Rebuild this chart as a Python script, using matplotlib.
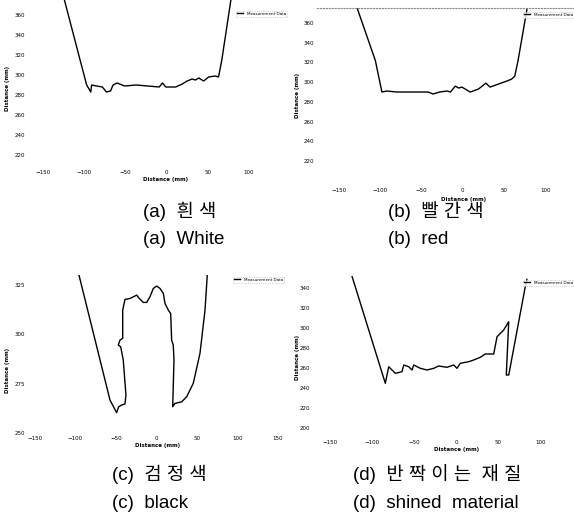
import matplotlib
matplotlib.use('Agg')
from matplotlib import pyplot as plt

W, H = 574, 522

# (a) white
a_x = [-131, -124, -105, -97, -92, -91, -85, -78, -73, -68, -65, -60, -51, -37, -23, -9, -5, -1, 11, 19, 25, 31, 35, 39, 45, 51, 59, 63, 67, 78, 82]
a_y = [390, 375, 315, 290, 283, 290, 289, 288, 283, 284, 290, 292, 289, 290, 289, 288, 292, 288, 288, 291, 294, 296, 295, 297, 294, 298, 299, 298, 315, 375, 390]
# (b) red
b_x = [-131, -128, -106, -98, -92, -80, -72, -64, -52, -42, -36, -28, -19, -15, -9, -5, -1, 9, 19, 28, 33, 43, 53, 59, 63, 67, 78, 81]
b_y = [380, 375, 322, 290, 291, 290, 290, 290, 290, 290, 288, 290, 291, 290, 296, 294, 295, 290, 293, 299, 295, 298, 301, 303, 306, 322, 375, 380]
# (c) black
c_x = [-97, -95.7, -57.4, -49.2, -46.7, -43, -38.9, -37.7, -41, -44.2, -47.2, -45, -41.7, -41.7, -38.9, -32.7, -24.4, -21.2, -16.3, -12.1, -8, -3.9, 0.2, 4.3, 8.4, 10.5, 14.6, 17.5, 18.7, 20.7, 21.6, 20, 22.8, 31.1, 37.3, 45.4, 53.7, 59.9, 62.7, 64]
c_y = [333, 330.1, 266.7, 260.3, 263.3, 264.2, 264.7, 269.2, 287, 293.7, 294.6, 297.1, 298, 312.3, 317.7, 318.2, 319.9, 318.2, 316.2, 316.2, 319.1, 323.3, 324.5, 323.3, 320.8, 315.7, 312.3, 310.6, 297.1, 294.6, 287, 263.3, 265, 265.8, 268.4, 275.2, 290.4, 312.3, 330.1, 333]
# (d) shined material
d_x = [-126, -84.5, -80.5, -72.6, -64.6, -62.6, -56.7, -52.7, -50.7, -42.9, -34.9, -26.9, -21, -11.1, -3.1, 0.8, 4.8, 14.8, 20.7, 28.6, 34.5, 44.5, 48.5, 56.4, 62.4, 59.5, 62.4, 82.1, 84]
d_y = [357, 245, 261.6, 255, 256.6, 263.3, 261.6, 258.3, 263.3, 260, 258.3, 260, 262.3, 261, 263.3, 260, 265, 266.6, 268.3, 271, 274.3, 274.3, 291.6, 298.3, 306.6, 253.3, 253.3, 341.6, 349]

x_ticks = [-150, -100, -50, 0, 50, 100, 150]
ab_yticks = [220, 240, 260, 280, 300, 320, 340, 360]
c_yticks = [250, 275, 300, 325]
d_yticks = [200, 220, 240, 260, 280, 300, 320, 340]

legend_label = 'Measurement Data'

fig = plt.figure(figsize=(W / 100, H / 100), dpi=100)


def box(l, t, r, b):
    return [l / W, 1 - b / H, (r - l) / W, (b - t) / H]


def panel(rect, x, y, xlim, ylim, yticks, leg_px, ylab_px, xlab_px, top_dotted=False):
    ax = fig.add_axes(box(*rect))
    ax.plot(x, y, color='black', lw=1.0, label=legend_label)
    # ticks first, set_xticks would widen the limits otherwise
    ax.set_xticks(x_ticks)
    ax.set_yticks(yticks)
    ax.set_xlim(xlim)
    ax.set_ylim(ylim)
    ax.tick_params(length=0, labelsize=4, pad=2)
    for s in ax.spines.values():
        s.set_visible(False)
    if top_dotted:
        ax.spines['top'].set_visible(True)
        ax.spines['top'].set_linestyle(':')
        ax.spines['top'].set_color('#888888')
        ax.spines['top'].set_linewidth(0.8)
    l, t, r, b = rect
    ax.set_ylabel('Distance (mm)', fontsize=4, fontweight='bold')
    ax.yaxis.set_label_coords((ylab_px[0] - l) / (r - l), (b - ylab_px[1]) / (b - t))
    ax.set_xlabel('Distance (mm)', fontsize=4, fontweight='bold')
    ax.xaxis.set_label_coords((xlab_px[0] - l) / (r - l), (b - xlab_px[1]) / (b - t))
    leg = ax.legend(loc='upper left', bbox_to_anchor=(leg_px[0] / W, 1 - leg_px[1] / H),
                    bbox_transform=fig.transFigure, fontsize=3, handlelength=1.5,
                    borderpad=0.2, frameon=True, fancybox=False)
    leg.get_frame().set_linestyle(':')
    leg.get_frame().set_edgecolor('#999999')
    leg.get_frame().set_linewidth(0.5)
    return ax


panel((28, 0, 287, 167), a_x, a_y, (-168.2, 146.1), (208, 375), ab_yticks, (234, 9), (10, 88), (166, 177))
panel((317, 8, 574, 185), b_x, b_y, (-176.7, 134.8), (195.7, 375.2), ab_yticks, (521, 10), (300, 95), (464, 197), top_dotted=True)
panel((28, 275, 287, 433), c_x, c_y, (-158.6, 161.1), (250, 330.1), c_yticks, (231, 275), (10, 370), (158, 443))
panel((313, 276, 574, 437), d_x, d_y, (-170.6, 140.1), (191.3, 352.3), d_yticks, (521, 278), (300, 357), (457, 447))

cap_font = ['Liberation Sans', 'Noto Sans CJK KR']
captions = [
    (143, 211, '(a)  흰 색'), (143, 239, '(a)  White'),
    (388, 211, '(b)  빨 간 색'), (388, 239, '(b)  red'),
    (112, 474, '(c)  검 정 색'), (112, 504, '(c)  black'),
    (353, 474, '(d)  반 짝 이 는  재 질'), (353, 504, '(d)  shined  material'),
]
for px, py, s in captions:
    fig.text(px / W, 1 - py / H, s, fontsize=13.5, family=cap_font, ha='left', va='center')

fig.savefig('out.png', dpi=100)
